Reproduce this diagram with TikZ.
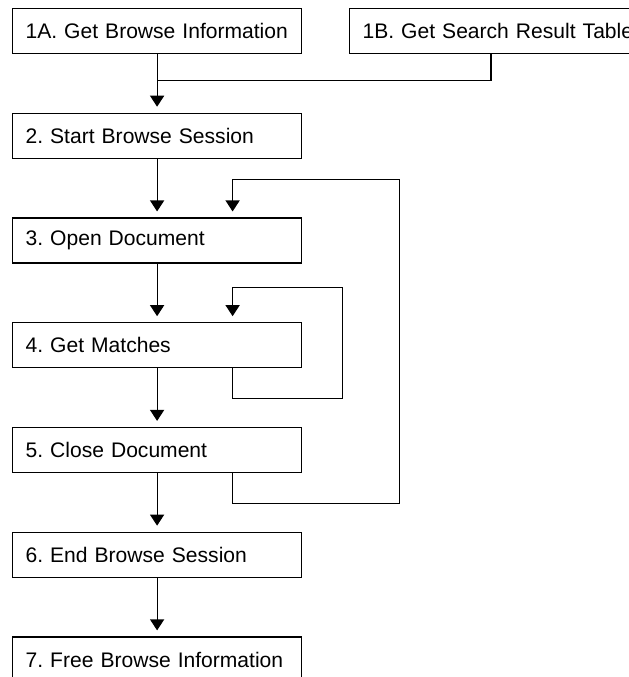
\documentclass[tikz,border=0pt]{standalone}
\usepackage{fontspec}
\setmainfont{Liberation Sans}
\frenchspacing
\hyphenpenalty=10000
\usetikzlibrary{calc,positioning,arrows.meta}
\tikzset{
  box/.style={draw, line width=0.9pt, minimum height=33.75pt, text width=197.25pt,
    inner xsep=9.75pt, inner ysep=0pt, align=left,
    font=\fontsize{15.8}{19}\selectfont},
  arr/.style={line width=0.9pt, -{Triangle[width=10.5pt,length=8.25pt]}, shorten >=4.5pt},
  link/.style={line width=0.9pt}
}

\begin{document}
\begin{tikzpicture}[x=0.75pt, y=-0.75pt]
			%%%%% START %%%%%
			\useasboundingbox (0,0) rectangle (628,677);
			
			\node[box, anchor=north west] (b1a) at (12,8) {1A. Get Browse Information};
			\node[box, anchor=north west, text width=215pt] (b1b) at (349,8) {1B. Get Search Result Table};
			
			\node[box, below=43.9pt of b1a] (b2) {2. Start Browse Session};
			\node[box, below=43.9pt of b2] (b3) {3. Open Document};
			\node[box, below=43.9pt of b3] (b4) {4. Get Matches};
			\node[box, below=43.9pt of b4] (b5) {5. Close Document};
			\node[box, below=43.9pt of b5] (b6) {6. End Browse Session};
			\node[box, below=43.9pt of b6] (b7) {7. Free Browse Information};
			
			% join of 1A and 1B
			\coordinate (join) at ($(b1a.south)+(0,26)$);
			\draw[link] ($(b1b.south west)+(142,0)$) |- (join);
			\draw[arr] (b1a.south) -- (b2.north);
			
			\draw[arr] (b2.south) -- (b3.north);
			\draw[arr] (b3.south) -- (b4.north);
			\draw[arr] (b4.south) -- (b5.north);
			\draw[arr] (b5.south) -- (b6.north);
			\draw[arr] (b6.south) -- (b7.north);
			
			% loop on 4
			\draw[arr] ($(b4.south)+(75.5,0)$) -- ++(0,30) -- ++(110,0) |- ($(b4.north)+(75.5,-35)$) -- ($(b4.north)+(75.5,0)$);
			
			% loop from 5 back to 3
			\draw[arr] ($(b5.south)+(75.5,0)$) -- ++(0,30) -- ++(167,0) |- ($(b3.north)+(75.5,-38)$) -- ($(b3.north)+(75.5,0)$);
			
			%%%%% END %%%%%
		\end{tikzpicture}
\end{document}
